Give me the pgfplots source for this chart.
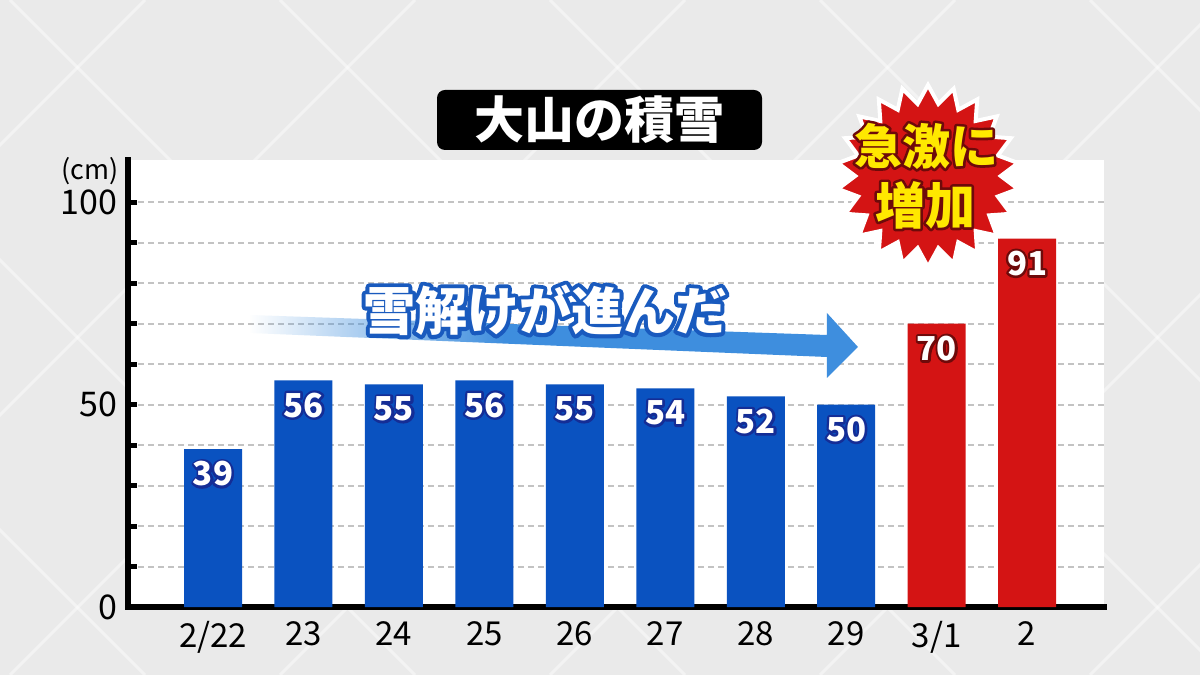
\documentclass[border=0pt]{standalone}
\usepackage{fontspec}
\setmainfont{Noto Sans CJK JP}
\usepackage{pgfplots}
\pgfplotsset{compat=1.18}
\usetikzlibrary{shapes.geometric,fadings}
\definecolor{barblue}{RGB}{10,82,192}
\definecolor{barred}{RGB}{212,20,20}
\definecolor{navyol}{RGB}{20,45,150}
\definecolor{redol}{RGB}{110,10,10}
\definecolor{arrowblue}{RGB}{62,142,222}
\definecolor{txtblue}{RGB}{25,90,190}
\definecolor{bggray}{RGB}{234,234,234}
\definecolor{gridgray}{RGB}{195,195,195}
\definecolor{staryellow}{RGB}{255,232,0}
\pgfdeclarehorizontalshading{fadeshade}{100bp}{color(0bp)=(pgftransparent!100); color(25bp)=(pgftransparent!100); color(46bp)=(pgftransparent!0); color(100bp)=(pgftransparent!0)}
\pgfdeclarefading{arrowfade}{\pgfuseshading{fadeshade}}
% #1 stroke width (bp, twice the visible outline), #2 outline colour, #3 fill colour, #4 text
\newcommand\outlined[4]{\leavevmode\rlap{\color{#2}\special{pdf:code q 2 Tr #1 w 1 j 1 J}#4\special{pdf:code Q}}\textcolor{#3}{#4}}
\begin{document}
\begin{tikzpicture}[x=1pt,y=1pt]
\useasboundingbox (0,0) rectangle (600,337.5);
\fill[bggray] (0,0) rectangle (600,337.5);
\foreach \c in {-400,-265,...,700}{
  \draw[white, line width=1.5pt, opacity=0.45] (\c,0) -- ++(337.5,337.5);
  \draw[white, line width=1.5pt, opacity=0.45] (\c+337.5,0) -- ++(-337.5,337.5);
}
\begin{axis}[
  name=ax,
  at={(64pt,34pt)}, anchor=south west,
  scale only axis, width=488pt, height=223.5pt,
  xmin=-0.94, xmax=9.85, ymin=0, ymax=110.4,
  axis x line=bottom, axis y line=left,
  axis line style={line width=3pt, black, -, line cap=rect},
  axis background/.style={fill=white},
  xtick={0,...,9},
  xticklabels={2/22,23,24,25,26,27,28,29,3/1,2},
  x tick style={draw=none},
  xticklabel style={font=\fontsize{16.5}{20}\selectfont, yshift=1pt},
  ytick={0,10,...,100},
  yticklabels={0,,,,,50,,,,,100},
  y tick style={line width=2.5pt, black},
  tick align=inside, major tick length=4.5pt,
  ymajorgrids,
  grid style={gridgray, line width=1pt, dash pattern=on 3pt off 2pt},
  yticklabel style={font=\fontsize{17}{20}\selectfont, xshift=-2pt},
  /pgf/number format/assume math mode=true,
  ybar, bar width=29pt,
  every node near coord/.append style={anchor=north, yshift=-6pt, inner sep=0pt, font=\bfseries\fontsize{16.5}{18}\selectfont},
]
\addplot[fill=barblue, draw=none, bar shift=0pt,
  nodes near coords={\outlined{2.4}{navyol}{white}{\pgfmathprintnumber{\pgfplotspointmeta}}}]
  coordinates {(0,39) (1,56) (2,55) (3,56) (4,55) (5,54) (6,52) (7,50)};
\addplot[fill=barred, draw=none, bar shift=0pt,
  nodes near coords={\outlined{2.4}{redol}{white}{\pgfmathprintnumber{\pgfplotspointmeta}}}]
  coordinates {(8,70) (9,91)};
\end{axis}
\node[font=\fontsize{13.5}{15}\selectfont] at ([xshift=-19pt, yshift=-5.5pt]ax.north west) {(cm)};
% arrow
\fill[arrowblue, path fading=arrowfade] (125,180) -- (413.5,170) -- (413.5,181) -- (429,164) -- (413.5,148.5) -- (413.5,159) -- (125,171) -- cycle;
\node[inner sep=0pt] at (272.5,182.5) {\outlined{4}{txtblue}{white}{\bfseries\fontsize{26}{28}\selectfont 雪解けが進んだ}};
% title
\node[fill=black, rounded corners=4pt, minimum width=162.5pt, minimum height=30pt, text=white, inner sep=0pt, font=\bfseries\fontsize{25}{28}\selectfont] at (299.75,277.5) {大山の積雪};
% star burst
\node[star, star points=22, star point ratio=1.25, minimum size=91pt, inner sep=0pt, fill=barred, draw=white, line width=2pt] at (464,249.5) {};
\node[inner sep=0pt] at (463,264.5) {\outlined{2.6}{redol}{staryellow}{\bfseries\fontsize{24}{26}\selectfont 急激に}};
\node[inner sep=0pt] at (462.5,235) {\outlined{2.6}{redol}{staryellow}{\bfseries\fontsize{25}{26}\selectfont 増加}};
\end{tikzpicture}
\end{document}
